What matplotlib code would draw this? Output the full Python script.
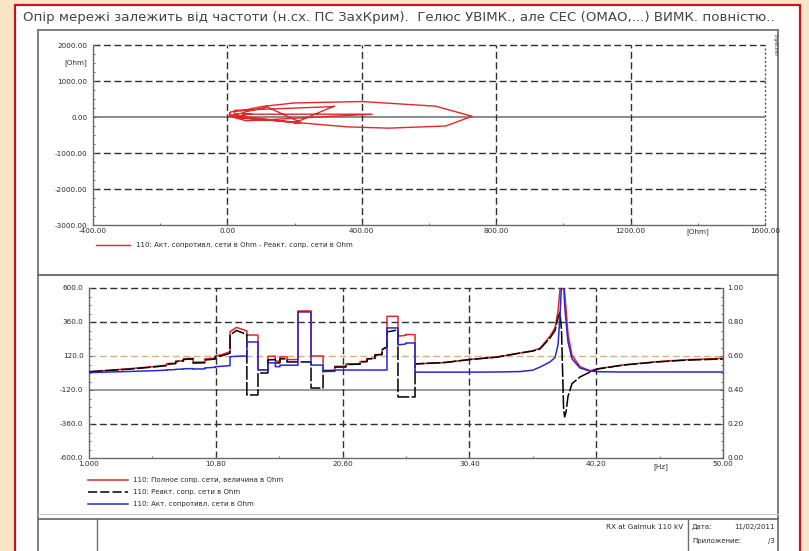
import matplotlib
matplotlib.use('Agg')
import matplotlib.pyplot as plt
from matplotlib.patches import Rectangle
from matplotlib.lines import Line2D
from matplotlib.ticker import AutoMinorLocator

matplotlib.rcParams['axes.unicode_minus'] = False
plt.rcParams['font.family'] = ['DejaVu Sans']

W, H = 809, 551

title = u'Опір мережі залежить від частоти (н.сх. ПС ЗахКрим).  Гелюс УВІМК., але СЕС (ОМАО,...) ВИМК. повністю..'

# frequency sweep, Hz
freq_hz = [1.00, 2.60, 4.20, 5.95, 7.00, 7.00, 7.70, 7.70, 8.30, 8.30,
           9.05, 9.05, 9.95, 9.95, 10.75, 10.75, 11.30, 11.90, 11.90, 12.40,
           13.20, 13.20, 14.06, 14.06, 14.83, 14.83, 15.40, 15.40, 15.76, 15.76,
           16.30, 16.30, 17.15, 17.15, 18.16, 18.16, 19.09, 19.09, 20.00, 20.00,
           20.86, 20.86, 21.95, 21.95, 22.49, 22.49, 23.10, 23.10, 23.65, 23.65,
           24.03, 24.03, 24.88, 24.88, 25.50, 25.50, 26.20, 26.20, 28.50, 30.45,
           32.50, 34.31, 35.30, 35.86, 36.63, 37.02, 37.25, 37.40, 37.52, 37.60,
           37.68, 37.76, 37.87, 38.02, 38.33, 38.95, 39.72, 40.30, 42.30, 44.90,
           47.00, 50.00]
# active resistance, Ohm
r_ohm = [3, 7, 11, 16, 20, 22, 24, 26, 28, 30,
         31, 28, 29, 36, 40, 44, 48, 52, 115, 118,
         120, 219, 219, 22, 22, 72, 72, 45, 45, 55,
         55, 55, 55, 431, 431, 56, 56, 10, 12, 21,
         21, 21, 21, 21, 21, 21, 21, 21, 21, 21,
         21, 318, 318, 198, 205, 212, 212, 6, 6, 6,
         7, 10, 20, 42, 78, 110, 200, 400, 620, 728,
         650, 480, 360, 220, 100, 35, 14, 9, 7, 7,
         7, 7]
# reactance, Ohm
x_ohm = [8, 18, 28, 42, 52, 62, 66, 80, 84, 96,
         99, 70, 72, 92, 98, 112, 122, 140, 268, 300,
         272, -155, -155, 0, 0, 92, 95, 70, 72, 100,
         100, 78, 78, 78, 78, -106, -106, 14, 16, 42,
         42, 60, 62, 78, 80, 99, 102, 127, 130, 165,
         184, 290, 304, -169, -169, -169, -169, 64, 74, 95,
         112, 141, 155, 170, 247, 300, 390, 430, 300, 20,
         -250, -310, -275, -165, -75, -28, 7, 28, 56, 78,
         90, 99]
# impedance magnitude, Ohm
z_ohm = [10, 20, 31, 45, 56, 66, 70, 84, 88, 100,
         104, 76, 78, 99, 106, 120, 131, 150, 292, 322,
         297, 268, 268, 22, 22, 117, 119, 83, 85, 114,
         114, 95, 95, 438, 438, 120, 120, 18, 20, 47,
         47, 64, 66, 81, 83, 101, 104, 129, 132, 166,
         185, 400, 400, 260, 266, 272, 271, 64, 74, 96,
         112, 141, 157, 175, 260, 320, 438, 587, 689, 728,
         696, 571, 453, 275, 125, 45, 16, 30, 57, 80,
         93, 104]

re_ticks = [-400, 0, 400, 800, 1200, 1600]
im_ticks = [-3000, -2000, -1000, 0, 1000, 2000]
f_ticks = [1.0, 10.8, 20.6, 30.4, 40.2, 50.0]
f_labels = ['1.000', '10.80', '20.60', '30.40', '40.20', '50.00']
ohm_ticks = [-600, -360, -120, 120, 360, 600]
pu_ticks = [0.0, 0.2, 0.4, 0.6, 0.8, 1.0]

legend_top = u'110: Акт. сопротивл. сети в Ohm - Реакт. сопр. сети в Ohm'
legend_bottom = [u'110: Полное сопр. сети, величина в Ohm',
                 u'110: Реакт. сопр. сети в Ohm',
                 u'110: Акт. сопротивл. сети в Ohm']

RED = '#e3262a'
BLUE = '#2727d6'
GRID = '#2f2f2f'
TXT = '#2a2a2a'


def fx(x):
    return x / W


def fy(y):
    return 1 - y / H


def fline(x0, y0, x1, y1, **kw):
    fig.add_artist(Line2D([fx(x0), fx(x1)], [fy(y0), fy(y1)], transform=fig.transFigure, **kw))


fig = plt.figure(figsize=(W / 100, H / 100), dpi=100)
fig.patch.set_facecolor('#f8e5c7')

# red frame + page
fig.add_artist(Rectangle((fx(15), fy(560)), (800 - 15) / W, (560 - 5) / H, transform=fig.transFigure,
                         facecolor='white', edgecolor='#c8141c', lw=1.6, zorder=-10))
fig.add_artist(Rectangle((fx(38), fy(570)), (778 - 38) / W, (570 - 30) / H, transform=fig.transFigure,
                         facecolor='white', edgecolor='#7c7c7c', lw=1.4, zorder=-9))
fline(38, 275, 778, 275, color='#6e6e6e', lw=1.4, zorder=-8)
fline(38, 514, 778, 514, color='#c8c8c8', lw=0.8, zorder=-8)
fline(38, 519, 778, 519, color='#6e6e6e', lw=1.3, zorder=-8)
fline(97, 519, 97, 551, color='#6e6e6e', lw=1.0, zorder=-8)
fline(688, 519, 688, 551, color='#6e6e6e', lw=1.0, zorder=-8)

fig.text(fx(23), fy(17), title, ha='left', va='center', fontsize=9.65, color='#444444')

# ---------------- upper panel: R-X locus ----------------
ax1 = fig.add_axes([fx(93), fy(225), (765 - 93) / W, (225 - 45) / H])
ax1.set_facecolor('none')
ax1.set_xlim(-400, 1600)
ax1.set_ylim(-3000, 2000)

for y in [2000, 1000, -1000, -2000]:
    ax1.axhline(y, color=GRID, lw=1.0, dashes=(5, 2.5), clip_on=False, zorder=1)
ax1.axhline(0, color='#8a8a8a', lw=1.4, zorder=1)
for x in [0, 400, 800, 1200]:
    ax1.axvline(x, color=GRID, lw=1.0, dashes=(5, 2.5), zorder=1)
ax1.axvline(1600, color='#555555', lw=1.0, dashes=(1.5, 1.5), clip_on=False, zorder=1)

ax1.plot(r_ohm, x_ohm, color=RED, lw=1.0, zorder=3)

ax1.set_xticks(re_ticks)
ax1.set_xticklabels(['%.2f' % v for v in re_ticks])
ax1.set_yticks(im_ticks)
ax1.set_yticklabels(['%.2f' % v for v in im_ticks])
ax1.xaxis.set_minor_locator(AutoMinorLocator(2))
ax1.yaxis.set_minor_locator(AutoMinorLocator(4))
ax1.tick_params(which='both', direction='in', colors='#555555', labelcolor=TXT, labelsize=5.2, width=0.6)
ax1.tick_params(which='major', length=2.5)
ax1.tick_params(which='minor', length=1.5)
ax1.tick_params(axis='y', pad=4)
ax1.tick_params(axis='x', pad=2)
for s in ['top', 'right']:
    ax1.spines[s].set_visible(False)
for s in ['left', 'bottom']:
    ax1.spines[s].set_color('#6a6a6a')
    ax1.spines[s].set_linewidth(1.0)

fig.text(fx(87), fy(63), '[Ohm]', ha='right', va='center', fontsize=5.2, color=TXT)
fig.text(fx(698), fy(232), '[Ohm]', ha='center', va='center', fontsize=5.2, color=TXT)
fig.text(fx(775), fy(34), 'DIgSILENT', ha='center', va='top', fontsize=3.2, color=TXT, rotation=270)

fline(96, 245, 130, 245, color=RED, lw=1.0)
fig.text(fx(136), fy(245), legend_top, ha='left', va='center', fontsize=5.0, color=TXT)

# ---------------- lower panel: impedance vs frequency ----------------
ax2 = fig.add_axes([fx(89), fy(458), (723 - 89) / W, (458 - 288) / H])
ax2.set_facecolor('none')
ax2.set_xlim(1, 50)
ax2.set_ylim(-600, 600)

for y in [600, 360, -360]:
    ax2.axhline(y, color=GRID, lw=1.0, dashes=(5, 2.5), clip_on=False, zorder=1)
ax2.axhline(120, color='#d2b27a', lw=1.0, dashes=(5, 2.5), zorder=1)
ax2.axhline(-120, color='#9a9a9a', lw=1.4, zorder=1)
for x in f_ticks[1:-1]:
    ax2.axvline(x, color=GRID, lw=1.0, dashes=(5, 2.5), zorder=1)

ax2.plot(freq_hz, z_ohm, color=RED, lw=1.1, zorder=3)
ax2.plot(freq_hz, x_ohm, color='black', lw=1.1, dashes=(9, 1.5), zorder=4)
ax2.plot(freq_hz, r_ohm, color=BLUE, lw=1.1, zorder=5)

ax2.set_xticks(f_ticks)
ax2.set_xticklabels(f_labels)
ax2.set_yticks(ohm_ticks)
ax2.set_yticklabels(['%.1f' % v for v in ohm_ticks])
ax2.xaxis.set_minor_locator(AutoMinorLocator(2))
ax2.yaxis.set_minor_locator(AutoMinorLocator(4))
ax2.tick_params(which='both', direction='in', colors='#555555', labelcolor=TXT, labelsize=5.2, width=0.6)
ax2.tick_params(which='major', length=2.5)
ax2.tick_params(which='minor', length=1.5)
ax2.tick_params(axis='y', pad=4)
ax2.tick_params(axis='x', pad=2)
ax2.spines['top'].set_visible(False)
for s in ['left', 'bottom', 'right']:
    ax2.spines[s].set_color('#6a6a6a')
    ax2.spines[s].set_linewidth(1.0)

ax2r = ax2.twinx()
ax2r.set_ylim(0, 1)
ax2r.set_yticks(pu_ticks)
ax2r.set_yticklabels(['%.2f' % v for v in pu_ticks])
ax2r.yaxis.set_minor_locator(AutoMinorLocator(4))
ax2r.tick_params(which='both', direction='in', colors='#555555', labelcolor=TXT, labelsize=5.2, width=0.6, pad=3)
ax2r.tick_params(which='major', length=2.5)
ax2r.tick_params(which='minor', length=1.5)
for s in ['top', 'left', 'bottom']:
    ax2r.spines[s].set_visible(False)
ax2r.spines['right'].set_color('#6a6a6a')

fig.text(fx(661), fy(467), '[Hz]', ha='center', va='center', fontsize=5.2, color=TXT)

leg_styles = [dict(color=RED), dict(color='black', dashes=(6, 2)), dict(color=BLUE)]
for i, (lab, st) in enumerate(zip(legend_bottom, leg_styles)):
    yy = 480 + i * 12
    fline(88, yy, 128, yy, lw=1.1, **st)
    fig.text(fx(133), fy(yy), lab, ha='left', va='center', fontsize=5.0, color=TXT)

# title block
fig.text(fx(683), fy(527), 'RX at Galmuk 110 kV', ha='right', va='center', fontsize=5.2, color=TXT)
fig.text(fx(692), fy(527), u'Дата:', ha='left', va='center', fontsize=5.0, color=TXT)
fig.text(fx(775), fy(527), '11/02/2011', ha='right', va='center', fontsize=5.0, color=TXT)
fig.text(fx(692), fy(541), u'Приложение:', ha='left', va='center', fontsize=5.0, color=TXT)
fig.text(fx(775), fy(541), '/3', ha='right', va='center', fontsize=5.0, color=TXT)

fig.savefig('out.png', dpi=100, facecolor=fig.get_facecolor())
